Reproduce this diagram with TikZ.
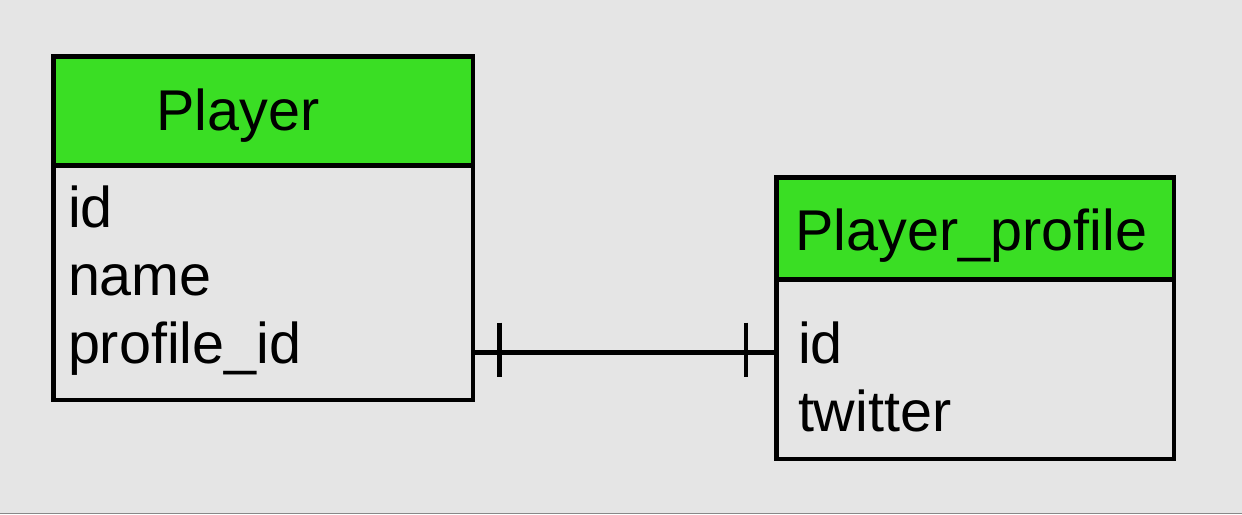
\documentclass[tikz,border=0pt]{standalone}
\usepackage{fontspec}
\setmainfont{Liberation Sans}
\usetikzlibrary{calc}
\definecolor{bg}{HTML}{E5E5E5}
\definecolor{hdr}{HTML}{3ADE24}
\definecolor{edge}{HTML}{888888}
\tikzset{
  entbox/.style={draw=black, line width=4.5pt, rectangle, inner sep=0pt, outer sep=0pt, anchor=north west},
  hdrbox/.style={entbox, fill=hdr},
  bodybox/.style={entbox, fill=bg},
  txt/.style={inner sep=0pt, outer sep=0pt, anchor=base west, font=\fontsize{57.5}{68}\selectfont},
  link/.style={draw=black, line width=4.5pt},
}
\begin{document}
\begin{tikzpicture}[x=1pt,y=-1pt]
  \fill[bg] (0,0) rectangle (1242,514);
  \useasboundingbox (0,0) rectangle (1242,514);
  \fill[edge] (0,512.5) rectangle (1242,514);
  % Player entity
  \node[bodybox, minimum width=419.5pt, minimum height=234.5pt] (pbody) at (53.5,165.5) {};
  \node[hdrbox, minimum width=419.5pt, minimum height=109pt] (phead) at (53.5,56.5) {};
  \node[txt] (ptitle) at (156.5,130) {Player};
  \node[txt] (pa1) at (68,227) {id};
  \node[txt] (pa2) at (68,295) {name};
  \node[txt] (pa3) at (68,363) {profile\_id};
  % Player_profile entity
  \node[bodybox, minimum width=397.5pt, minimum height=179.5pt] (fbody) at (776.5,279.5) {};
  \node[hdrbox, minimum width=397.5pt, minimum height=102pt] (fhead) at (776.5,177.5) {};
  \node[txt] (ftitle) at (795.5,250) {Player\_profile};
  \node[txt] (fa1) at (798,363) {id};
  \node[txt] (fa2) at (798,431) {twitter};
  % relationship (one-to-one)
  \coordinate (liney) at (0,352.5);
  \coordinate (l1) at (pbody.east |- liney);
  \coordinate (l2) at (fbody.west |- liney);
  \draw[link] (l1) -- (l2);
  \draw[link] ($(l1)+(26.5,-30)$) -- ($(l1)+(26.5,24.5)$);
  \draw[link] ($(l2)+(-30.5,-30)$) -- ($(l2)+(-30.5,24.5)$);
\end{tikzpicture}
\end{document}
